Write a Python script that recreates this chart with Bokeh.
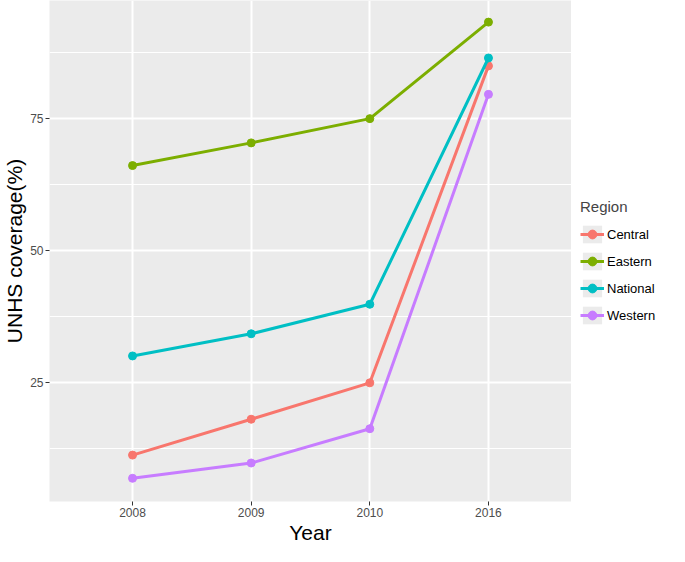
from bokeh.plotting import figure
from bokeh.layouts import row
from bokeh.models import (FactorRange, Range1d, FixedTicker, Legend, LegendItem,
                          ColumnDataSource)
from bokeh.embed import file_html
from bokeh.resources import INLINE

years = ["2008", "2009", "2010", "2016"]
regions = ["Central", "Eastern", "National", "Western"]
central = [11.2, 18.0, 24.9, 85.0]
eastern = [66.1, 70.4, 75.0, 93.3]
national = [30.0, 34.2, 39.8, 86.5]
western = [6.8, 9.7, 16.2, 79.6]
colors = ["#F8766D", "#7CAE00", "#00BFC4", "#C77CFF"]
y_ticks = [25, 50, 75]
y_minor = [12.5, 37.5, 62.5, 87.5]

FONT = "Liberation Sans"
FW, FH = 522, 501
TOTAL_H = 546

p = figure(frame_width=FW, frame_height=FH, output_backend="svg",
           toolbar_location=None,
           x_range=FactorRange(factors=years, range_padding=0.2,
                               range_padding_units="absolute"),
           y_range=Range1d(2.4, 97.4),
           min_border_left=0, min_border_top=0, min_border_right=0,
           min_border_bottom=0)

p.background_fill_color = "#EBEBEB"
p.border_fill_color = "white"
p.outline_line_color = None

p.xgrid.grid_line_color = "white"
p.xgrid.grid_line_width = 2
p.ygrid.grid_line_color = "white"
p.ygrid.grid_line_width = 2
p.ygrid.minor_grid_line_color = "white"
p.ygrid.minor_grid_line_width = 1

p.yaxis.ticker = FixedTicker(ticks=y_ticks, minor_ticks=y_minor)

for ax in (p.xaxis[0], p.yaxis[0]):
    ax.axis_line_color = None
    ax.major_tick_line_color = "#333333"
    ax.major_tick_line_width = 1
    ax.major_tick_out = 4
    ax.major_tick_in = 0
    ax.minor_tick_line_color = None
    ax.major_label_text_font = FONT
    ax.major_label_text_font_size = "12px"
    ax.major_label_text_color = "#4D4D4D"
    ax.major_label_standoff = 2
    ax.axis_label_text_font = FONT
    ax.axis_label_text_font_size = "21px"
    ax.axis_label_text_font_style = "normal"
    ax.axis_label_text_color = "black"
    ax.axis_label_standoff = 1

p.xaxis.axis_label = "Year"
p.yaxis.axis_label = "UNHS coverage(%)"

series = [central, eastern, national, western]
for name, vals, col in zip(regions, series, colors):
    src = ColumnDataSource(dict(x=years, y=vals))
    p.line("x", "y", source=src, line_color=col, line_width=3)
    p.scatter("x", "y", source=src, size=8, fill_color=col, line_color=col)

# legend panel (separate figure to the right of the plot)
lf = figure(width=104, height=TOTAL_H, output_backend="svg",
            toolbar_location=None, x_axis_location=None, y_axis_location=None,
            x_range=Range1d(0, 1), y_range=Range1d(0, 1),
            min_border_left=0, min_border_top=0, min_border_right=0,
            min_border_bottom=0)
lf.outline_line_color = None
lf.grid.grid_line_color = None
lf.background_fill_color = "white"
lf.border_fill_color = "white"

items = []
for name, col in zip(regions, colors):
    bg = lf.quad(left=[5], right=[6], top=[6], bottom=[5],
                 fill_color="#EBEBEB", line_color=None)
    ln = lf.line(x=[5, 6], y=[5, 6], line_color=col, line_width=3)
    pt = lf.scatter(x=[5], y=[5], size=8, fill_color=col, line_color=col)
    items.append(LegendItem(label=name, renderers=[bg, ln, pt]))

legend = Legend(items=items, title="Region", location=(9, 175),
                title_text_font=FONT, title_text_font_size="15px",
                title_text_font_style="normal", title_standoff=8,
                label_text_font=FONT, label_text_font_size="13px",
                label_text_color="black", glyph_width=24, glyph_height=22,
                label_standoff=3, spacing=5, padding=4, margin=0,
                border_line_color=None, background_fill_color="white")
lf.add_layout(legend, "center")

layout = row(p, lf)
open("out.html", "w").write(file_html(layout, INLINE))
